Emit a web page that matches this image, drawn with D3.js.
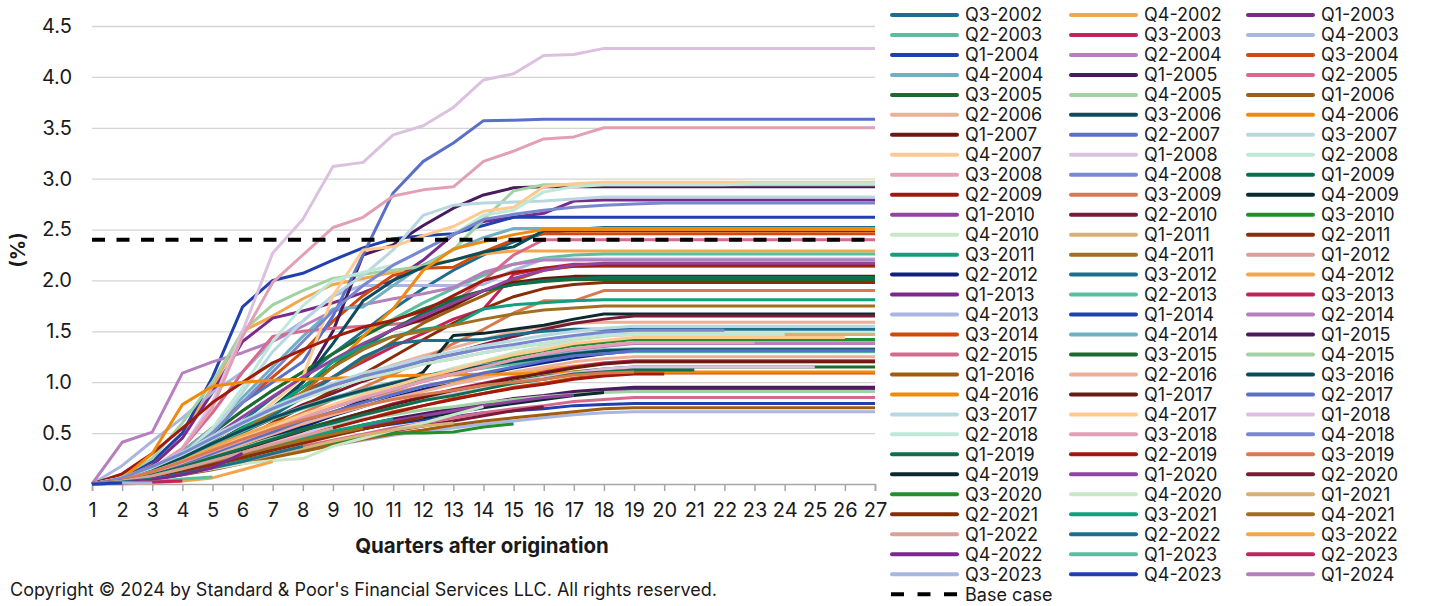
<!DOCTYPE html>
<html>
<head>
<meta charset="utf-8">
<script src="https://cdn.jsdelivr.net/npm/d3@7"></script>
<style>
  body { margin: 0; background: #fff; }
  text { font-family: Inter, "Noto Sans", sans-serif; fill: #1a1a1a; }
</style>
</head>
<body>
<div id="chart"></div>
<script>
// cumulative default rate (%) by vintage, one value per quarter after origination
var vintages = ["Q3-2002","Q4-2002","Q1-2003","Q2-2003","Q3-2003","Q4-2003","Q1-2004","Q2-2004","Q3-2004","Q4-2004",
  "Q1-2005","Q2-2005","Q3-2005","Q4-2005","Q1-2006","Q2-2006","Q3-2006","Q4-2006","Q1-2007","Q2-2007",
  "Q3-2007","Q4-2007","Q1-2008","Q2-2008","Q3-2008","Q4-2008","Q1-2009","Q2-2009","Q3-2009","Q4-2009",
  "Q1-2010","Q2-2010","Q3-2010","Q4-2010","Q1-2011","Q2-2011","Q3-2011","Q4-2011","Q1-2012","Q2-2012",
  "Q3-2012","Q4-2012","Q1-2013","Q2-2013","Q3-2013","Q4-2013","Q1-2014","Q2-2014","Q3-2014","Q4-2014",
  "Q1-2015","Q2-2015","Q3-2015","Q4-2015","Q1-2016","Q2-2016","Q3-2016","Q4-2016","Q1-2017","Q2-2017",
  "Q3-2017","Q4-2017","Q1-2018","Q2-2018","Q3-2018","Q4-2018","Q1-2019","Q2-2019","Q3-2019","Q4-2019",
  "Q1-2020","Q2-2020","Q3-2020","Q4-2020","Q1-2021","Q2-2021","Q3-2021","Q4-2021","Q1-2022","Q2-2022",
  "Q3-2022","Q4-2022","Q1-2023","Q2-2023","Q3-2023","Q4-2023","Q1-2024"];

var q3_2002 = [0,0.04,0.12,0.25,0.42,0.62,0.85,1.05,1.28,1.5,1.72,1.92,2.1,2.25,2.38,2.46,2.5,2.52,2.52,2.52,2.52,2.52,2.52,2.52,2.52,2.52,2.52];
var q4_2002 = [0,0.06,0.2,0.5,0.95,1.5,1.65,1.82,1.96,2.02,2.08,2.15,2.2,2.26,2.29,2.29,2.29,2.29,2.29,2.29,2.29,2.29,2.29,2.29,2.29,2.29,2.29];
var q1_2003 = [0,0.05,0.18,0.45,0.9,1.4,1.63,1.7,1.78,1.88,2.0,2.2,2.45,2.58,2.62,2.66,2.78,2.79,2.79,2.79,2.79,2.79,2.79,2.79,2.79,2.79,2.79];
var q2_2003 = [0,0.04,0.14,0.3,0.5,0.72,0.92,1.1,1.28,1.45,1.62,1.78,1.92,2.05,2.16,2.22,2.25,2.26,2.26,2.26,2.26,2.26,2.26,2.26,2.26,2.26,2.26];
var q3_2003 = [0,0.03,0.1,0.22,0.38,0.56,0.75,0.9,1.05,1.2,1.35,1.48,1.62,1.72,2.06,2.12,2.16,2.16,2.16,2.16,2.16,2.16,2.16,2.16,2.16,2.16,2.16];
var q4_2003 = [0,0.18,0.42,0.65,0.9,1.1,1.4,1.6,1.85,1.95,1.95,1.95,1.95,1.96,2.1,2.21,2.21,2.21,2.21,2.21,2.21,2.21,2.21,2.21,2.21,2.21,2.21];
var q1_2004 = [0,0.08,0.22,0.5,1.05,1.74,2.0,2.07,2.2,2.32,2.41,2.44,2.46,2.54,2.62,2.62,2.62,2.62,2.62,2.62,2.62,2.62,2.62,2.62,2.62,2.62,2.62];
var q2_2004 = [0,0.41,0.51,1.09,1.2,1.29,1.4,1.55,1.7,1.76,1.82,1.87,1.93,2.08,2.16,2.2,2.2,2.2,2.2,2.2,2.2,2.2,2.2,2.2,2.2,2.2,2.2];
var q3_2004 = [0,0.05,0.15,0.32,0.55,0.8,1.05,1.3,1.6,1.85,2.05,2.12,2.13,2.28,2.4,2.46,2.46,2.46,2.46,2.46,2.46,2.46,2.46,2.46,2.46,2.46,2.46];
var q4_2004 = [0,0.05,0.15,0.32,0.55,0.85,1.15,1.45,1.72,1.74,1.95,2.15,2.3,2.42,2.51,2.51,2.51,2.51,2.51,2.51,2.51,2.51,2.51,2.51,2.51,2.51,2.51];
var q1_2005 = [0,0.03,0.1,0.22,0.38,0.55,0.72,1.0,1.5,2.25,2.35,2.54,2.71,2.84,2.91,2.92,2.92,2.92,2.92,2.92,2.92,2.92,2.92,2.92,2.92,2.92,2.92];
var q2_2005 = [0,0.05,0.15,0.35,0.7,1.1,1.45,1.5,1.53,1.55,1.57,1.6,1.78,2.0,2.25,2.4,2.4,2.4,2.4,2.4,2.4,2.4,2.4,2.4,2.4,2.4,2.4];
var q3_2005 = [0,0.04,0.14,0.3,0.5,0.72,0.92,1.1,1.28,1.45,1.6,1.72,1.82,1.9,1.96,1.99,2.01,2.01,2.01,2.01,2.01,2.01,2.01,2.01,2.01,2.01,2.01];
var q4_2005 = [0,0.08,0.25,0.6,1.0,1.5,1.76,1.9,2.02,2.06,2.1,2.14,2.3,2.6,2.88,2.94,2.94,2.94,2.94,2.94,2.94,2.94,2.94,2.94,2.94,2.94,2.94];
var q1_2006 = [0,0.03,0.1,0.2,0.35,0.52,0.7,0.88,1.05,1.22,1.4,1.58,1.72,1.85,2.0,2.1,2.14,2.14,2.14,2.14,2.14,2.14,2.14,2.14,2.14,2.14,2.14];
var q2_2006 = [0,0.04,0.12,0.25,0.4,0.55,0.7,0.84,0.96,1.07,1.17,1.26,1.34,1.42,1.5,1.55,1.58,1.59,1.59,1.59,1.59,1.59,1.59,1.59,1.59,1.59,1.59];
var q3_2006 = [0,0.03,0.1,0.22,0.38,0.55,0.75,1.0,1.38,1.8,2.0,2.13,2.2,2.28,2.33,2.49,2.49,2.49,2.49,2.49,2.49,2.49,2.49,2.49,2.49,2.49,2.49];
var q4_2006 = [0,0.03,0.1,0.22,0.38,0.55,0.72,0.9,1.15,1.45,1.72,2.1,2.31,2.38,2.45,2.5,2.5,2.5,2.5,2.5,2.5,2.5,2.5,2.5,2.5,2.5,2.5];
var q1_2007 = [0,0.03,0.1,0.22,0.38,0.56,0.75,0.95,1.15,1.35,1.52,1.62,1.75,1.9,1.98,2.02,2.04,2.04,2.04,2.04,2.04,2.04,2.04,2.04,2.04,2.04,2.04];
var q2_2007 = [0,0.03,0.1,0.25,0.5,0.8,1.0,1.2,1.65,2.25,2.86,3.17,3.35,3.57,3.575,3.585,3.585,3.585,3.585,3.585,3.585,3.585,3.585,3.585,3.585,3.585,3.585];
var q3_2007 = [0,0.04,0.15,0.3,0.5,0.9,1.3,1.6,1.85,2.05,2.3,2.64,2.74,2.76,2.77,2.78,2.8,2.82,2.82,2.82,2.82,2.82,2.82,2.82,2.82,2.82,2.82];
var q4_2007 = [0,0.03,0.1,0.2,0.35,0.55,0.8,1.05,1.85,2.3,2.33,2.44,2.53,2.68,2.72,2.92,2.95,2.965,2.965,2.965,2.965,2.965,2.965,2.965,2.965,2.965,2.965];
var q1_2008 = [0,0.05,0.15,0.35,0.8,1.5,2.27,2.6,3.12,3.16,3.43,3.52,3.7,3.97,4.03,4.21,4.22,4.28,4.28,4.28,4.28,4.28,4.28,4.28,4.28,4.28,4.28];
var q2_2008 = [0,0.04,0.12,0.28,0.55,0.95,1.4,1.75,2.0,2.08,2.15,2.3,2.45,2.64,2.69,2.87,2.92,2.94,2.94,2.94,2.94,2.94,2.95,2.95,2.95,2.95,2.95];
var q3_2008 = [0,0.05,0.15,0.35,0.75,1.45,1.98,2.25,2.52,2.62,2.83,2.89,2.92,3.17,3.27,3.39,3.41,3.5,3.5,3.5,3.5,3.5,3.5,3.5,3.5,3.5,3.5];
var q4_2008 = [0,0.04,0.12,0.28,0.5,0.8,1.1,1.4,1.7,1.95,2.15,2.3,2.45,2.6,2.65,2.69,2.72,2.74,2.75,2.76,2.76,2.76,2.76,2.76,2.76,2.76,2.76];
var q1_2009 = [0,0.03,0.1,0.22,0.38,0.56,0.75,0.95,1.15,1.35,1.52,1.68,1.8,1.9,1.96,2.0,2.02,2.03,2.03,2.03,2.03,2.03,2.03,2.03,2.03,2.03,2.03];
var q2_2009 = [0,0.1,0.3,0.55,0.8,1.0,1.19,1.32,1.44,1.54,1.61,1.7,1.85,2.0,2.08,2.12,2.14,2.15,2.15,2.15,2.15,2.15,2.15,2.15,2.15,2.15,2.15];
var q3_2009 = [0,0.03,0.09,0.18,0.3,0.43,0.57,0.7,0.83,0.95,1.08,1.22,1.38,1.52,1.68,1.8,1.8,1.9,1.9,1.9,1.9,1.9,1.9,1.9,1.9,1.9,1.9];
var q4_2009 = [0,0.02,0.07,0.15,0.25,0.36,0.47,0.58,0.7,0.82,0.95,1.1,1.46,1.48,1.52,1.56,1.62,1.67,1.67,1.67,1.67,1.67,1.67,1.67,1.67,1.67,1.67];
var q1_2010 = [0,0.04,0.13,0.28,0.46,0.66,0.86,1.05,1.22,1.38,1.52,1.65,1.78,1.9,2.02,2.1,2.15,2.17,2.17,2.17,2.17,2.17,2.17,2.17,2.17,2.17,2.17];
var q2_2010 = [0,0.05,0.13,0.25,0.38,0.51,0.64,0.78,0.89,1.01,1.11,1.2,1.29,1.37,1.45,1.52,1.58,1.62,1.65,1.65,1.65,1.65,1.65,1.65,1.65,1.65,1.65];
var q3_2010 = [0,0.04,0.11,0.21,0.33,0.44,0.55,0.67,0.77,0.87,0.95,1.04,1.11,1.18,1.25,1.31,1.36,1.39,1.42,1.42,1.42,1.42,1.42,1.42,1.42,1.42,1.42];
var q4_2010 = [0,0.03,0.09,0.18,0.28,0.4,0.52,0.64,0.75,0.86,0.96,1.05,1.14,1.21,1.29,1.35,1.41,1.45,1.48,1.48,1.48,1.48,1.48,1.48,1.48,1.48,1.48];
var q1_2011 = [0,0.06,0.16,0.29,0.44,0.59,0.72,0.84,0.94,1.03,1.1,1.18,1.23,1.29,1.34,1.38,1.43,1.46,1.47,1.47,1.47,1.47,1.47,1.47,1.47,1.47,1.47];
var q2_2011 = [0,0.03,0.09,0.18,0.3,0.44,0.6,0.76,0.92,1.08,1.25,1.42,1.58,1.72,1.84,1.92,1.96,1.98,1.98,1.98,1.98,1.98,1.98,1.98,1.98,1.98,1.98];
var q3_2011 = [0,0.03,0.1,0.22,0.38,0.55,0.75,0.95,1.2,1.35,1.45,1.52,1.56,1.72,1.76,1.78,1.8,1.81,1.81,1.81,1.81,1.81,1.81,1.81,1.81,1.81,1.81];
var q4_2011 = [0,0.03,0.09,0.2,0.35,0.52,0.7,0.9,1.15,1.32,1.45,1.5,1.56,1.62,1.67,1.71,1.73,1.75,1.75,1.75,1.75,1.75,1.75,1.75,1.75,1.75,1.75];
var q1_2012 = [0,0.04,0.11,0.21,0.32,0.43,0.54,0.65,0.75,0.85,0.93,1.01,1.08,1.15,1.22,1.28,1.33,1.36,1.39,1.39,1.39,1.39,1.39,1.39,1.39,1.39,1.39];
var q2_2012 = [0,0.03,0.08,0.16,0.25,0.35,0.46,0.56,0.67,0.76,0.85,0.93,1.01,1.07,1.14,1.19,1.24,1.28,1.31,1.31,1.31,1.31,1.31,1.31,1.31,1.31,1.31];
var q3_2012 = [0,0.03,0.09,0.2,0.34,0.5,0.67,0.85,1.05,1.25,1.38,1.41,1.41,1.42,1.47,1.5,1.52,1.52,1.52,1.52,1.52,1.52,1.52,1.52,1.52,1.52,1.52];
var q4_2012 = [0,0.05,0.13,0.24,0.36,0.48,0.59,0.68,0.77,0.84,0.9,0.96,1.01,1.06,1.09,1.13,1.16,1.19,1.2,1.2,1.2,1.2,1.2,1.2,1.2,1.2,1.2];
var q1_2013 = [0,0.03,0.07,0.14,0.21,0.29,0.36,0.44,0.5,0.57,0.62,0.68,0.73,0.77,0.82,0.86,0.89,0.91,0.93,0.93,0.93,0.93,0.93,0.93,0.93,0.93,0.93];
var q2_2013 = [0,0.05,0.14,0.26,0.39,0.52,0.64,0.74,0.83,0.91,0.98,1.04,1.09,1.14,1.18,1.22,1.26,1.29,1.3,1.3,1.3,1.3,1.3,1.3,1.3,1.3,1.3];
var q3_2013 = [0,0.02,0.07,0.15,0.23,0.33,0.42,0.52,0.62,0.7,0.79,0.86,0.93,0.99,1.05,1.1,1.15,1.19,1.21,1.21,1.21,1.21,1.21,1.21,1.21,1.21,1.21];
var q4_2013 = [0,0.02,0.06,0.11,0.16,0.22,0.28,0.33,0.38,0.43,0.48,0.52,0.55,0.59,0.62,0.65,0.68,0.7,0.71,0.71,0.71,0.71,0.71,0.71,0.71,0.71,0.71];
var q1_2014 = [0,0.03,0.09,0.16,0.24,0.32,0.39,0.45,0.51,0.55,0.59,0.63,0.66,0.7,0.72,0.74,0.77,0.78,0.79,0.79,0.79,0.79,0.79,0.79,0.79,0.79,0.79];
var q2_2014 = [0,0.04,0.11,0.21,0.32,0.43,0.54,0.65,0.75,0.84,0.92,1.01,1.08,1.15,1.21,1.27,1.32,1.35,1.38,1.38,1.38,1.38,1.38,1.38,1.38,1.38,1.38];
var q3_2014 = [0,0.02,0.07,0.13,0.21,0.29,0.38,0.47,0.56,0.63,0.71,0.77,0.84,0.89,0.95,0.99,1.04,1.07,1.09,1.09,1.09,1.09,1.09,1.09,1.09,1.09,1.09];
var q4_2014 = [0,0.05,0.15,0.27,0.4,0.53,0.65,0.76,0.85,0.93,1.0,1.06,1.12,1.17,1.21,1.25,1.29,1.32,1.33,1.33,1.33,1.33,1.33,1.33,1.33,1.33,1.33];
var q1_2015 = [0,0.03,0.08,0.14,0.22,0.29,0.37,0.45,0.51,0.58,0.64,0.69,0.74,0.79,0.84,0.87,0.91,0.93,0.95,0.95,0.95,0.95,0.95,0.95,0.95,0.95,0.95];
var q2_2015 = [0,0.02,0.05,0.1,0.16,0.23,0.3,0.37,0.43,0.49,0.55,0.6,0.65,0.7,0.74,0.77,0.81,0.83,0.85,0.85,0.85,0.85,0.85,0.85,0.85,0.85,0.85];
var q3_2015 = [0,0.03,0.09,0.17,0.26,0.36,0.45,0.54,0.62,0.7,0.77,0.84,0.9,0.95,1.01,1.06,1.1,1.13,1.15,1.15,1.15,1.15,1.15,1.15,1.15,1.15,1.15];
var q4_2015 = [0,0.04,0.1,0.18,0.27,0.36,0.45,0.52,0.58,0.64,0.68,0.73,0.76,0.8,0.83,0.86,0.88,0.9,0.91,0.91,0.91,0.91,0.91,0.91,0.91,0.91,0.91];
var q1_2016 = [0,0.02,0.05,0.09,0.14,0.2,0.26,0.32,0.38,0.44,0.49,0.53,0.58,0.62,0.65,0.68,0.71,0.74,0.75,0.75,0.75,0.75,0.75,0.75,0.75,0.75,0.75];
var q2_2016 = [0,0.04,0.1,0.19,0.29,0.39,0.49,0.59,0.68,0.76,0.84,0.91,0.98,1.04,1.1,1.15,1.2,1.23,1.25,1.25,1.25,1.25,1.25,1.25,1.25,1.25,1.25];
var q3_2016 = [0,0.05,0.15,0.26,0.4,0.53,0.65,0.75,0.84,0.92,0.99,1.06,1.11,1.16,1.2,1.24,1.28,1.31,1.32,1.32,1.32,1.32,1.32,1.32,1.32,1.32,1.32];
var q4_2016 = [0,0.05,0.3,0.78,0.96,1.0,1.02,1.03,1.04,1.05,1.06,1.07,1.07,1.08,1.08,1.09,1.1,1.1,1.1,1.1,1.1,1.1,1.1,1.1,1.1,1.1,1.1];
var q1_2017 = [0,0.02,0.07,0.14,0.23,0.32,0.42,0.52,0.61,0.7,0.78,0.85,0.92,0.98,1.04,1.09,1.14,1.18,1.2,1.2,1.2,1.2,1.2,1.2,1.2,1.2,1.2];
var q2_2017 = [0,0.04,0.1,0.2,0.3,0.41,0.51,0.62,0.71,0.8,0.88,0.96,1.02,1.09,1.15,1.21,1.26,1.28,1.31,1.31,1.31,1.31,1.31,1.31,1.31,1.31,1.31];
var q3_2017 = [0,0.06,0.17,0.31,0.47,0.62,0.76,0.88,0.99,1.09,1.16,1.24,1.3,1.36,1.41,1.46,1.5,1.53,1.55,1.55,1.55,1.55,1.55,1.55,1.55,1.55,1.55];
var q4_2017 = [0,0.04,0.12,0.22,0.33,0.45,0.56,0.68,0.78,0.88,0.96,1.05,1.12,1.2,1.27,1.32,1.38,1.41,1.44,1.44,1.44,1.44,1.44,1.44,1.44,1.44];
var q1_2018 = [0,0.02,0.07,0.14,0.22,0.31,0.4,0.49,0.59,0.67,0.75,0.82,0.89,0.94,1.0,1.05,1.09,1.13,1.15,1.15,1.15,1.15,1.15,1.15,1.15];
var q2_2018 = [0,0.06,0.16,0.29,0.44,0.59,0.72,0.84,0.94,1.03,1.1,1.18,1.23,1.29,1.34,1.38,1.43,1.46,1.47,1.47,1.47,1.47,1.47,1.47];
var q3_2018 = [0,0.04,0.11,0.21,0.32,0.43,0.54,0.65,0.75,0.85,0.93,1.01,1.08,1.15,1.22,1.28,1.33,1.36,1.39,1.39,1.39,1.39,1.39];
var q4_2018 = [0,0.06,0.17,0.3,0.45,0.6,0.74,0.86,0.97,1.06,1.13,1.21,1.27,1.33,1.37,1.42,1.46,1.49,1.51,1.51,1.51,1.51];
var q1_2019 = [0,0.03,0.09,0.17,0.26,0.35,0.44,0.53,0.6,0.68,0.75,0.82,0.87,0.93,0.99,1.03,1.08,1.1,1.12,1.12,1.12];
var q2_2019 = [0,0.02,0.06,0.13,0.21,0.29,0.38,0.46,0.55,0.63,0.7,0.77,0.83,0.89,0.94,0.98,1.03,1.06,1.08,1.08];
var q3_2019 = [0,0.04,0.12,0.22,0.33,0.44,0.54,0.63,0.7,0.77,0.83,0.88,0.92,0.97,1.0,1.03,1.07,1.09,1.1];
var q4_2019 = [0,0.03,0.07,0.13,0.2,0.27,0.34,0.41,0.48,0.54,0.6,0.65,0.7,0.75,0.79,0.83,0.87,0.9];
var q1_2020 = [0,0.03,0.08,0.14,0.21,0.29,0.36,0.43,0.5,0.56,0.62,0.67,0.72,0.77,0.81,0.85,0.875];
var q2_2020 = [0,0.02,0.06,0.11,0.17,0.23,0.29,0.35,0.41,0.47,0.52,0.57,0.62,0.67,0.72,0.76];
var q3_2020 = [0,0.02,0.06,0.11,0.17,0.23,0.29,0.35,0.41,0.46,0.5,0.5,0.51,0.56,0.59];
var q4_2020 = [0,0.02,0.05,0.1,0.15,0.2,0.23,0.25,0.37,0.45,0.53,0.6,0.68,0.76];
var q1_2021 = [0,0.02,0.05,0.1,0.16,0.22,0.29,0.35,0.42,0.48,0.53,0.57,0.6];
var q2_2021 = [0,0.02,0.06,0.12,0.19,0.26,0.33,0.4,0.47,0.54,0.6,0.655];
var q3_2021 = [0,0.03,0.08,0.15,0.23,0.31,0.38,0.45,0.52,0.58,0.64];
var q4_2021 = [0,0.03,0.08,0.15,0.22,0.29,0.36,0.43,0.49,0.55];
var q1_2022 = [0,0.03,0.08,0.15,0.23,0.31,0.39,0.47,0.55];
var q2_2022 = [0,0.02,0.05,0.1,0.16,0.22,0.3,0.37];
var q3_2022 = [0,0,0.01,0.03,0.06,0.14,0.22];
var q4_2022 = [0,0.01,0.04,0.09,0.16,0.3];
var q1_2023 = [0,0.01,0.02,0.05,0.07];
var q2_2023 = [0,0.01,0.02,0.03];
var q3_2023 = [0,0.01,0.01];
var q4_2023 = [0,0.01];
var q1_2024 = [0];

var seriesValues = [q3_2002,q4_2002,q1_2003,q2_2003,q3_2003,q4_2003,q1_2004,q2_2004,q3_2004,q4_2004,
  q1_2005,q2_2005,q3_2005,q4_2005,q1_2006,q2_2006,q3_2006,q4_2006,q1_2007,q2_2007,
  q3_2007,q4_2007,q1_2008,q2_2008,q3_2008,q4_2008,q1_2009,q2_2009,q3_2009,q4_2009,
  q1_2010,q2_2010,q3_2010,q4_2010,q1_2011,q2_2011,q3_2011,q4_2011,q1_2012,q2_2012,
  q3_2012,q4_2012,q1_2013,q2_2013,q3_2013,q4_2013,q1_2014,q2_2014,q3_2014,q4_2014,
  q1_2015,q2_2015,q3_2015,q4_2015,q1_2016,q2_2016,q3_2016,q4_2016,q1_2017,q2_2017,
  q3_2017,q4_2017,q1_2018,q2_2018,q3_2018,q4_2018,q1_2019,q2_2019,q3_2019,q4_2019,
  q1_2020,q2_2020,q3_2020,q4_2020,q1_2021,q2_2021,q3_2021,q4_2021,q1_2022,q2_2022,
  q3_2022,q4_2022,q1_2023,q2_2023,q3_2023,q4_2023,q1_2024];

var quarters = [1,2,3,4,5,6,7,8,9,10,11,12,13,14,15,16,17,18,19,20,21,22,23,24,25,26,27];
var yTicks = [0,0.5,1,1.5,2,2.5,3,3.5,4,4.5];
var baseCase = [2.4,2.4,2.4,2.4,2.4,2.4,2.4,2.4,2.4,2.4,2.4,2.4,2.4,2.4,2.4,2.4,2.4,2.4,2.4,2.4,2.4,2.4,2.4,2.4,2.4,2.4,2.4];

// excel-ish palette, repeats every 40 vintages
var palette = ["#1b6f8c","#f4a64c","#7a2a8c","#5bbf9f","#c0245a","#a9b6e2","#2140b0","#b67fbe","#d04a0c","#6fb0c2",
  "#4a1a5c","#d66a8e","#1e6a2c","#a2d2a4","#a05c10","#ecb098","#0a4c5a","#f08a0c","#6a1a10","#5a70c8",
  "#b8d8e0","#ffc98f","#dcc0e0","#c0e8d8","#e2a0b6","#7888d0","#0e6e4e","#a01a0c","#d87a50","#0b2a30",
  "#9044a0","#7a1a36","#20902e","#c8e6c8","#d8b070","#8a2c08","#10a07e","#a07020","#d8a098","#102080"];

function colorFor(i) {
  // third cycle restarts one step early (Q2-2022 takes the first colour)
  return i < 79 ? palette[i % 40] : palette[(i - 79) % 40];
}

var W = 1431, H = 606;
var svg = d3.select("#chart").append("svg").attr("width", W).attr("height", H);

var x = d3.scaleLinear().domain([1, 27]).range([92, 875]);
var y = d3.scaleLinear().domain([0, 4.5]).range([484, 26]);

// gridlines
svg.append("g")
  .attr("transform", "translate(92,0)")
  .call(d3.axisLeft(y).tickValues(yTicks.slice(1)).tickSize(-783).tickFormat(""))
  .call(function (g) { g.select(".domain").remove(); })
  .selectAll("line").attr("stroke", "#d4d4d4").attr("stroke-width", 1.3);

// y labels
var yAxis = svg.append("g")
  .attr("transform", "translate(92,0)")
  .call(d3.axisLeft(y).tickValues(yTicks).tickFormat(d3.format(".1f")).tickSize(0).tickPadding(20));
yAxis.select(".domain").remove();
yAxis.selectAll("text").style("font-size", "20px").style("font-family", "Inter, sans-serif").attr("fill", "#1a1a1a");

// x axis
var xAxis = svg.append("g")
  .attr("transform", "translate(0,484)")
  .call(d3.axisBottom(x).tickValues(quarters).tickSize(7).tickPadding(12));
xAxis.select(".domain").attr("stroke", "#a6a6a6").attr("stroke-width", 1.5);
xAxis.selectAll("line").attr("stroke", "#a6a6a6").attr("stroke-width", 1.5);
xAxis.selectAll("text").style("font-size", "20px").style("font-family", "Inter, sans-serif").attr("fill", "#1a1a1a");

var line = d3.line()
  .x(function (d, i) { return x(quarters[i]); })
  .y(function (d) { return y(d); });

svg.append("g").selectAll("path")
  .data(seriesValues)
  .enter().append("path")
    .attr("d", line)
    .attr("fill", "none")
    .attr("stroke", function (d, i) { return colorFor(i); })
    .attr("stroke-width", 3)
    .attr("stroke-linejoin", "round");

svg.append("path")
  .attr("d", line(baseCase))
  .attr("fill", "none")
  .attr("stroke", "#000")
  .attr("stroke-width", 4)
  .attr("stroke-dasharray", "13,11.5");

// titles
svg.append("text")
  .attr("x", 482).attr("y", 553)
  .attr("text-anchor", "middle")
  .style("font-size", "20.5px").style("font-weight", "bold")
  .text("Quarters after origination");

svg.append("text")
  .attr("transform", "translate(25,250) rotate(-90)")
  .attr("text-anchor", "middle")
  .style("font-size", "20px").style("font-weight", "bold")
  .text("(%)");

svg.append("text")
  .attr("x", 10).attr("y", 596)
  .style("font-size", "18px")
  .text("Copyright \u00a9 2024 by Standard & Poor's Financial Services LLC. All rights reserved.");

// legend, three columns filled row by row
var colX = [891, 1070, 1247];
var legend = svg.append("g");
var items = legend.selectAll("g.item")
  .data(vintages)
  .enter().append("g")
    .attr("class", "item")
    .attr("transform", function (d, i) {
      return "translate(" + colX[i % 3] + "," + (15 + Math.floor(i / 3) * 19.97) + ")";
    });
items.append("line")
  .attr("x1", 1).attr("x2", 66)
  .attr("stroke", function (d, i) { return colorFor(i); })
  .attr("stroke-width", 4)
  .attr("stroke-linecap", "round");
items.append("text")
  .attr("x", 74).attr("dy", "0.36em")
  .style("font-size", "18px")
  .text(function (d) { return d; });

var baseItem = legend.append("g")
  .attr("transform", "translate(" + colX[0] + "," + (15 + 29 * 19.97) + ")");
baseItem.append("line")
  .attr("x1", 0).attr("x2", 66)
  .attr("stroke", "#000").attr("stroke-width", 4)
  .attr("stroke-dasharray", "13,13.5");
baseItem.append("text")
  .attr("x", 74).attr("dy", "0.36em")
  .style("font-size", "18px")
  .text("Base case");
</script>
</body>
</html>
